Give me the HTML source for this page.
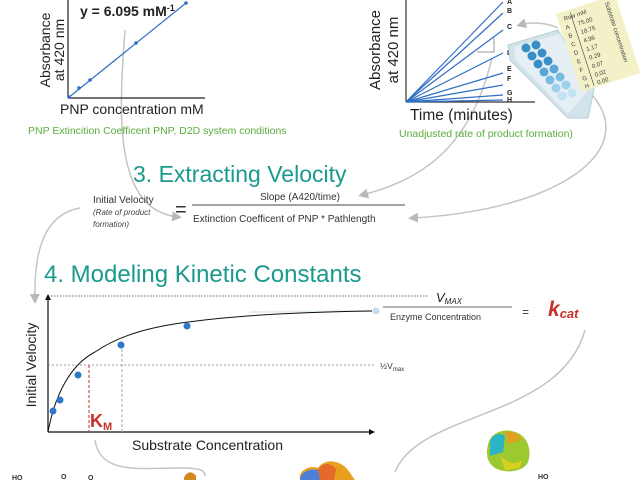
<!DOCTYPE html>
<html><head><meta charset="utf-8"><style>
html,body{margin:0;padding:0;background:#fff}
svg{display:block}
text{font-family:"Liberation Sans",sans-serif}
</style></head><body>
<svg width="640" height="480" viewBox="0 0 640 480" xmlns="http://www.w3.org/2000/svg">
<defs>
<marker id="ga" markerWidth="10" markerHeight="10" refX="6" refY="5" orient="auto" markerUnits="userSpaceOnUse"><path d="M0,0 L10,5 L0,10 z" fill="#b8b8b8"/></marker>
<marker id="ka" markerWidth="6" markerHeight="6" refX="5" refY="3" orient="auto" markerUnits="userSpaceOnUse"><path d="M0,0 L6,3 L0,6 z" fill="#111"/></marker>
</defs>
<g fill="none" stroke="#c4c4c4" stroke-width="1.5">
<path d="M125,30 C118,120 115,210 178,217" marker-end="url(#ga)"/>
<path d="M80,208 C40,215 34,260 35,300" marker-end="url(#ga)"/>
<path d="M492,58 C470,150 420,180 362,195" marker-end="url(#ga)"/>
<path d="M592,95 C640,150 560,210 412,218" marker-end="url(#ga)"/>
<path d="M558,28 C545,22 530,22 520,25" marker-end="url(#ga)"/>
<path d="M95,440 C100,475 140,468 180,468 C200,468 205,470 205,476"/>
<path d="M585,330 C560,420 420,410 395,472"/>
<path d="M250,312 L372,311" stroke="#e4eef3" stroke-width="2"/>
</g>
<line x1="68" y1="0" x2="68" y2="98" stroke="#222" stroke-width="1.2"/>
<line x1="68" y1="98" x2="205" y2="98" stroke="#222" stroke-width="1.2"/>
<line x1="68" y1="98" x2="186" y2="3" stroke="#2f6fc6" stroke-width="1.2"/>
<g fill="#2f6fc6"><circle cx="69" cy="97" r="1.8"/><circle cx="79" cy="88" r="1.8"/><circle cx="90" cy="80" r="1.8"/><circle cx="136" cy="43" r="1.8"/><circle cx="186" cy="3" r="1.8"/></g>
<text x="80" y="16" font-size="14" font-weight="bold" fill="#222">y = 6.095 mM<tspan font-size="9" dy="-5">-1</tspan></text>
<text transform="translate(50,50) rotate(-90)" text-anchor="middle" font-size="14" fill="#222">Absorbance</text>
<text transform="translate(64,50) rotate(-90)" text-anchor="middle" font-size="14" fill="#222">at 420 nm</text>
<text x="60" y="114" font-size="14" fill="#222">PNP concentration mM</text>
<text x="28" y="134" font-size="10.5" fill="#5aae3c">PNP Extincition Coefficent PNP,  D2D system conditions</text>
<line x1="406" y1="0" x2="406" y2="102" stroke="#333" stroke-width="1.2"/>
<line x1="406" y1="102" x2="535" y2="102" stroke="#333" stroke-width="1.2"/>
<g stroke="#2f6fc6" stroke-width="1.2">
<line x1="406" y1="102" x2="503" y2="2"/><line x1="406" y1="102" x2="503" y2="13"/>
<line x1="406" y1="102" x2="503" y2="30"/><line x1="406" y1="102" x2="503" y2="53"/>
<line x1="406" y1="102" x2="503" y2="73"/><line x1="406" y1="102" x2="503" y2="85"/>
<line x1="406" y1="102" x2="503" y2="95"/><line x1="406" y1="102" x2="503" y2="100"/>
</g>
<polyline points="477,52 494,52 494,37" fill="none" stroke="#999" stroke-width="1"/>
<g font-size="7" font-weight="bold" fill="#222">
<text x="507" y="4">A</text><text x="507" y="13">B</text><text x="507" y="29">C</text>
<text x="507" y="55">D</text><text x="507" y="71">E</text><text x="507" y="81">F</text>
<text x="507" y="95">G</text><text x="507" y="102">H</text></g>
<text transform="translate(380,50) rotate(-90)" text-anchor="middle" font-size="15" fill="#222">Absorbance</text>
<text transform="translate(398,50) rotate(-90)" text-anchor="middle" font-size="15" fill="#222">at 420 nm</text>
<text x="410" y="120" font-size="15.5" fill="#222">Time (minutes)</text>
<text x="399" y="137" font-size="10.5" fill="#5aae3c">Unadjusted rate of product formation)</text>
<g transform="translate(528,30)">
<path d="M-20,15 L30,0 L66,60 L60,88 L40,88 L-18,30 Z" fill="#d3e3ea" stroke="#b8cfd9"/>
<path d="M-14,17 L32,4 L62,58 L40,84 L-12,30 Z" fill="#e6f0f4"/>
<g fill="#3a8ec8">
<circle cx="-2" cy="18" r="4.5"/><circle cx="8" cy="15" r="4.5"/><circle cx="4" cy="26" r="4.5"/><circle cx="14" cy="23" r="4.5"/>
<circle cx="10" cy="34" r="4.5"/><circle cx="20" cy="31" r="4.5"/><circle cx="16" cy="42" r="4.5" fill="#5aa6d6"/><circle cx="26" cy="39" r="4.5" fill="#5aa6d6"/>
<circle cx="22" cy="50" r="4.5" fill="#79bce2"/><circle cx="32" cy="47" r="4.5" fill="#79bce2"/><circle cx="28" cy="58" r="4.5" fill="#9ed0ec"/><circle cx="38" cy="55" r="4.5" fill="#9ed0ec"/>
<circle cx="34" cy="66" r="4.5" fill="#c2e3f4"/><circle cx="44" cy="63" r="4.5" fill="#c2e3f4"/>
</g></g>
<g transform="translate(556,14) rotate(-18)">
<rect x="0" y="0" width="62" height="82" fill="#f3f1c8"/>
<g font-size="6" fill="#444"><text x="6" y="9">Row  mM</text>
<text x="5" y="18">A</text><text x="18" y="18">75.00</text><text x="5" y="27">B</text><text x="18" y="27">18.75</text>
<text x="5" y="36">C</text><text x="18" y="36">4.96</text><text x="5" y="45">D</text><text x="18" y="45">1.17</text>
<text x="5" y="54">E</text><text x="18" y="54">0.29</text><text x="5" y="63">F</text><text x="18" y="63">0.07</text>
<text x="5" y="72">G</text><text x="18" y="72">0.02</text><text x="5" y="80">H</text><text x="18" y="80">0.00</text>
<text transform="translate(50,4) rotate(90)" font-size="6">Substrate concentration</text></g>
<line x1="14" y1="3" x2="14" y2="80" stroke="#444" stroke-width="0.6"/>
</g>
<text x="133" y="182" font-size="23" fill="#1a9a8c">3.  Extracting Velocity</text>
<text x="93" y="203" font-size="10" fill="#333">Initial Velocity</text>
<text x="93" y="215" font-size="8" font-style="italic" fill="#444">(Rate of product</text>
<text x="93" y="227" font-size="8" font-style="italic" fill="#444">formation)</text>
<text x="175" y="216" font-size="20" fill="#333">=</text>
<line x1="192" y1="205" x2="405" y2="205" stroke="#444" stroke-width="1"/>
<text x="300" y="200" font-size="10" text-anchor="middle" fill="#333">Slope (A420/time)</text>
<text x="193" y="222" font-size="10" fill="#333">Extinction Coefficent of PNP * Pathlength</text>
<text x="44" y="282" font-size="24" fill="#1a9a8c">4. Modeling Kinetic Constants</text>
<line x1="48" y1="296" x2="428" y2="296" stroke="#666" stroke-width="1" stroke-dasharray="1.5,1.5"/>
<line x1="48" y1="432" x2="48" y2="295" stroke="#111" stroke-width="1.2" marker-end="url(#ka)"/>
<line x1="48" y1="432" x2="374" y2="432" stroke="#111" stroke-width="1.2" marker-end="url(#ka)"/>
<text x="436" y="302" font-size="13" font-style="italic" fill="#222">V<tspan font-size="8" dy="2">MAX</tspan></text>
<line x1="383" y1="307" x2="512" y2="307" stroke="#666" stroke-width="1"/>
<text x="390" y="320" font-size="9" fill="#333">Enzyme Concentration</text>
<text x="522" y="316" font-size="12" fill="#333">=</text>
<text x="548" y="316" font-size="21" font-weight="bold" font-style="italic" fill="#c8312b">k<tspan font-size="13" dy="2">cat</tspan></text>
<path d="M48,432 C55,395 70,365 95,352 C120,335 150,327 188,322 C240,315 300,312 372,311" fill="none" stroke="#111" stroke-width="1"/>
<line x1="48" y1="365" x2="374" y2="365" stroke="#777" stroke-width="0.8" stroke-dasharray="2,2"/>
<text x="380" y="369" font-size="8.5" fill="#333">½V<tspan font-size="6" dy="2">max</tspan></text>
<line x1="89" y1="365" x2="89" y2="432" stroke="#c8312b" stroke-width="1" stroke-dasharray="3,2"/>
<line x1="122" y1="344" x2="122" y2="432" stroke="#aaa" stroke-width="1" stroke-dasharray="3,2"/>
<g fill="#2f78c8"><circle cx="53" cy="411" r="3.5"/><circle cx="60" cy="400" r="3.5"/><circle cx="78" cy="375" r="3.5"/><circle cx="121" cy="345" r="3.5"/><circle cx="187" cy="326" r="3.5"/></g>
<circle cx="376" cy="311" r="3.5" fill="#c8dcec"/>
<text x="90" y="427" font-size="18" font-weight="bold" fill="#c8312b">K<tspan font-size="11" dy="3">M</tspan></text>
<text transform="translate(36,365) rotate(-90)" text-anchor="middle" font-size="14" fill="#222">Initial Velocity</text>
<text x="132" y="450" font-size="14" fill="#222">Substrate Concentration</text>
<g>
<path d="M300,480 C298,470 310,465 318,468 C325,458 340,460 348,470 L355,480 Z" fill="#e8a020"/>
<path d="M300,480 C300,472 310,468 318,470 L322,480 Z" fill="#4d7fd8"/>
<path d="M318,470 C322,462 332,462 336,470 L334,480 L320,480 Z" fill="#e36a2a"/>
<path d="M488,445 C490,432 505,428 515,432 C528,436 532,450 528,462 C524,472 505,474 495,468 C486,462 486,452 488,445 Z" fill="#9cc830"/>
<path d="M490,442 C492,434 500,432 505,436 L503,452 L490,456 Z" fill="#2bb4c6"/>
<path d="M505,432 C512,430 520,434 522,440 L508,444 Z" fill="#e0a020"/>
<path d="M500,455 C505,462 515,466 522,460 L520,468 L505,470 Z" fill="#d8d020"/>
<path d="M184,478 C186,472 192,470 196,476 L196,480 L184,480 Z" fill="#d08a20"/>
</g>
<g font-size="7" fill="#333" font-weight="bold"><text x="12" y="480">HO</text><text x="61" y="479">O</text><text x="88" y="480">O</text><text x="538" y="479">HO</text></g>
</svg>
</body></html>
